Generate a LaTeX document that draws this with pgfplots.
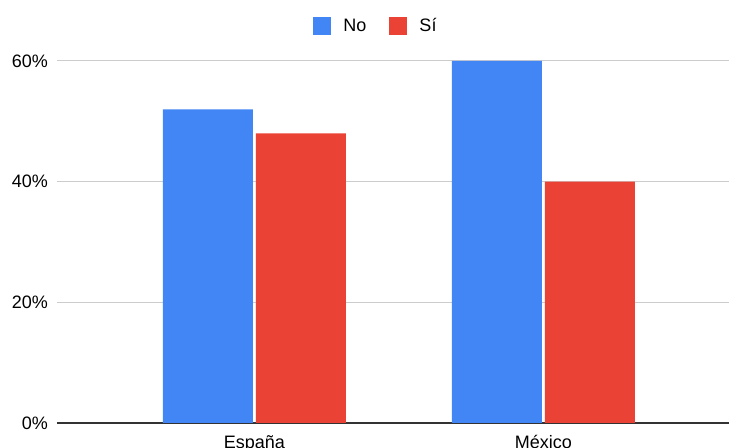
\documentclass[border=0pt]{standalone}
\usepackage{fontspec}
\setmainfont{Liberation Sans}
\usepackage{pgfplots}
\pgfplotsset{compat=1.18}
\definecolor{gblue}{HTML}{4285F4}
\definecolor{gred}{HTML}{EA4335}
\definecolor{gridc}{RGB}{204,204,204}
\definecolor{basec}{RGB}{51,51,51}
\begin{document}
\begin{tikzpicture}
\begin{axis}[
  at={(0,0)}, anchor=south west,
  scale only axis,
  width=672bp, height=362bp,
  ybar=3bp, bar width=90bp,
  xmin=-0.6834, xmax=1.642,
  ymin=0, ymax=60,
  xtick={0,1}, xticklabels={España,México},
  ytick={0,20,40,60},
  yticklabel={\pgfmathprintnumber{\tick}\%},
  /pgf/number format/assume math mode=true,
  tick label style={font=\fontsize{18bp}{21bp}\selectfont, inner sep=0pt},
  yticklabel style={xshift=-9bp},
  xticklabel style={anchor=north, yshift=-8bp},
  major tick style={draw=none},
  ymajorgrids, grid style={gridc, line width=1bp},
  separate axis lines,
  axis x line*=bottom, axis y line*=left,
  x axis line style={basec, line width=1.3bp, -},
  y axis line style={draw=none},
  legend columns=2,
  legend style={draw=none, at={(axis description cs:0.4732,1.0967)}, anchor=center,
    inner sep=0pt,
    nodes={font=\fontsize{18bp}{21bp}\selectfont, inner sep=0pt},
    /tikz/every even column/.append style={column sep=23bp}},
  legend image code/.code={\fill[#1] (0bp,-9bp) rectangle (18bp,9bp); \path (30bp,0bp);},
  legend cell align=left,
]
\addplot[fill=gblue, draw=none] coordinates {(0,52) (1,60)};
\addplot[fill=gred, draw=none] coordinates {(0,48) (1,40)};
\legend{No,Sí}
\end{axis}
\pgfresetboundingbox
\path[use as bounding box] (-57bp,-25bp) rectangle (672bp,423bp);
\end{tikzpicture}
\end{document}
